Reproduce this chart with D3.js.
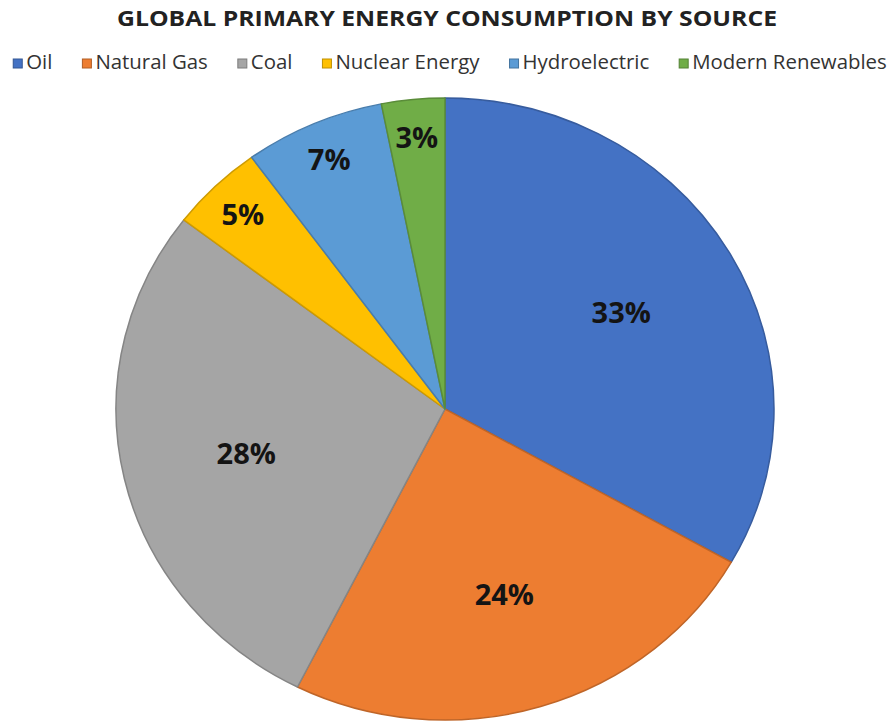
<!DOCTYPE html>
<html><head><meta charset="utf-8">
<script src="https://cdn.jsdelivr.net/npm/d3@7"></script>
<style>body{margin:0;background:#fff}svg{display:block}</style>
</head><body>
<svg id="c" width="890" height="722"></svg>
<script>
const categories = ["Oil","Natural Gas","Coal","Nuclear Energy","Hydroelectric","Modern Renewables"];
const values = [33.2, 24.2, 28.0, 4.6, 6.9, 3.1];
const labels = ["33%","24%","28%","5%","7%","3%"];
const colors = ["#4472C4","#ED7D31","#A5A5A5","#FFC000","#5B9BD5","#70AD47"];
const title = "GLOBAL PRIMARY ENERGY CONSUMPTION BY SOURCE";

const svg = d3.select("#c");
const W = 890;
const cx = 445, cy = 409, rx = 329, ry = 311;
const sx = rx / ry;

svg.append("text").attr("x", 447).attr("y", 26).attr("text-anchor","middle")
  .attr("font-family","Open Sans").attr("font-weight","bold").attr("font-size",22)
  .attr("fill","#222").attr("textLength",660).attr("lengthAdjust","spacingAndGlyphs")
  .text(title);

// legend
const lg = svg.append("g");
const items = lg.selectAll("g").data(categories).join("g");
items.append("rect").attr("width",9).attr("height",9).attr("y",-10)
  .attr("fill",(d,i)=>colors[i]).attr("stroke",(d,i)=>d3.color(colors[i]).darker(0.8)).attr("stroke-width",1);
const texts = items.append("text").attr("x",13).attr("y",0)
  .attr("font-family","Open Sans").attr("font-size",18).attr("fill","#333").text(d=>d);
const gap = 30, target = 874;
let tw = 0; texts.each(function(){ tw += this.getComputedTextLength(); });
const fixed = categories.length*13 + (categories.length-1)*gap;
const fs = 18 * (target - fixed) / tw;
texts.attr("font-size", fs);
let x = 0;
items.each(function(d,i){
  const w = d3.select(this).select("text").node().getComputedTextLength();
  d3.select(this).attr("transform",`translate(${x},0)`);
  x += 13 + w + gap;
});
const total = x - gap;
lg.attr("transform",`translate(${(W-total)/2 + 5},69)`);

// pie
const pie = d3.pie().value(d=>d).sort(null);
const arcs = pie(values);
const arc = d3.arc().innerRadius(0).outerRadius(ry);
const g = svg.append("g").attr("transform",`translate(${cx},${cy}) scale(${sx},1)`);
g.selectAll("path").data(arcs).join("path")
  .attr("d", arc)
  .attr("fill",(d,i)=>colors[i])
  .attr("stroke",(d,i)=>d3.color(colors[i]).darker(0.6))
  .attr("stroke-width",1.5)
  .attr("vector-effect","non-scaling-stroke")
  .attr("stroke-linejoin","round");

// labels
const lab = svg.append("g");
arcs.forEach((a,i)=>{
  const k = values[i] < 10 ? 0.88 : 0.62;
  const m = (a.startAngle + a.endAngle)/2;
  const r = ry * k;
  const lx = cx + Math.sin(m) * r * sx;
  const ly = cy - Math.cos(m) * r;
  lab.append("text").attr("x",lx).attr("y",ly).attr("text-anchor","middle")
    .attr("dominant-baseline","central")
    .attr("font-family","Open Sans").attr("font-weight","bold").attr("font-size",29)
    .attr("fill","#141414").text(labels[i]);
});
</script>
</body></html>
